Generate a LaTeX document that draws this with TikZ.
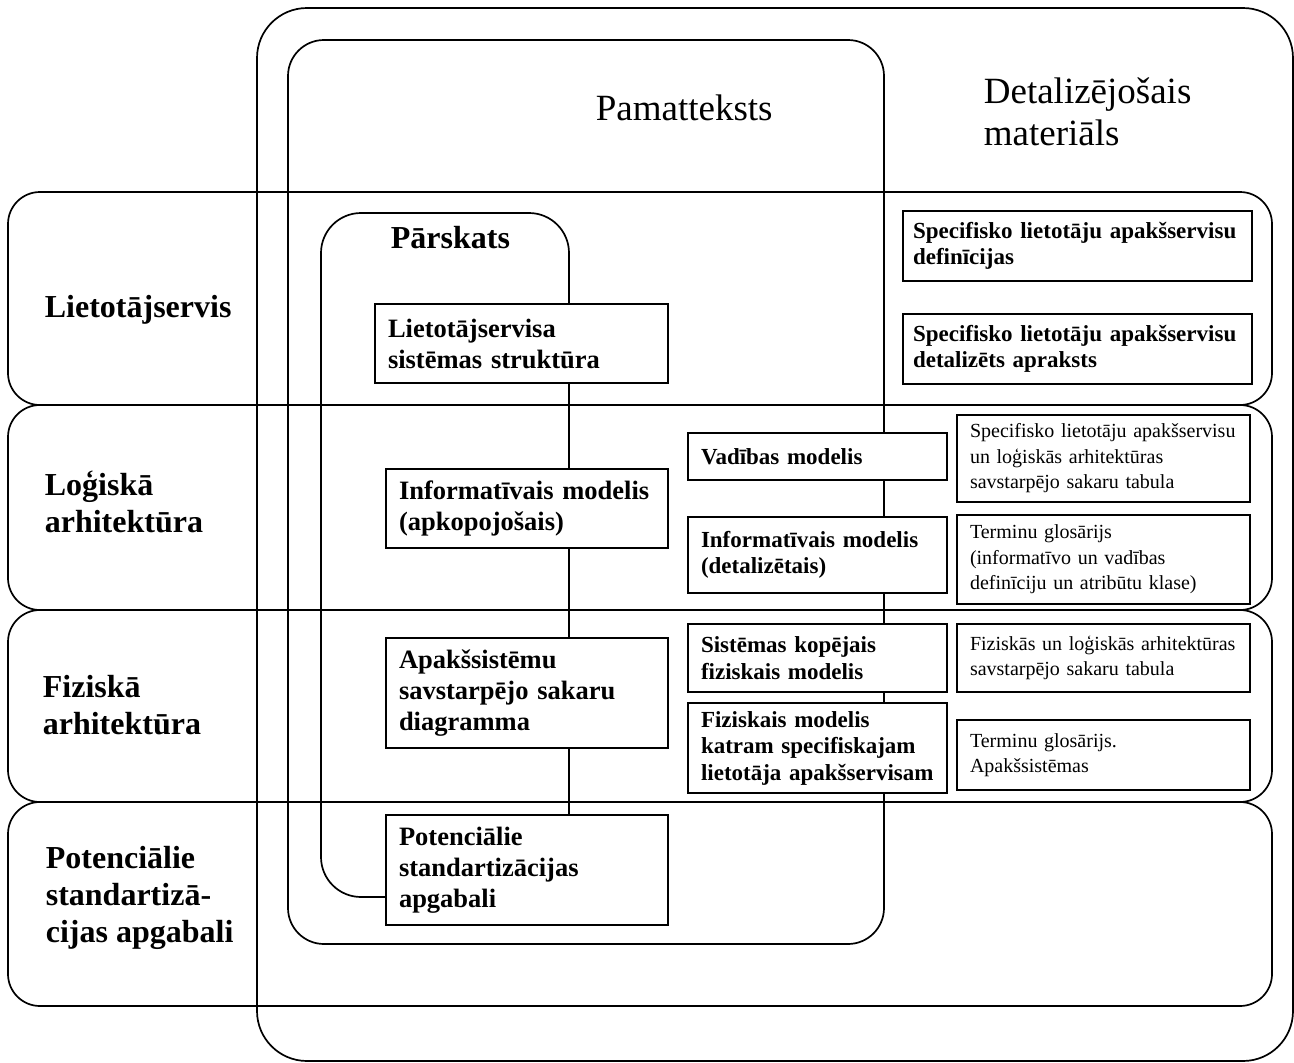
\documentclass[tikz,border=0pt]{standalone}
\usepackage{fontspec}
\setmainfont{Liberation Serif}
% left-aligned stack of lines whose baseline is that of the first line
\newcommand\stackl[1]{\begin{tabular}[t]{@{}l@{}}#1\end{tabular}}
\begin{document}
\begin{tikzpicture}[x=1pt, y=-1pt, line width=1.7pt,
  frame/.style={draw, rectangle, inner sep=0pt},
  band/.style={frame, rounded corners=32pt},
  bbox/.style={draw, fill=white, rectangle, inner xsep=13pt, inner ysep=0pt, align=left},
  bigtxt/.style={font=\fontsize{37}{42}\selectfont},
  bandtxt/.style={font=\fontsize{32}{37}\selectfont\bfseries},
  lfont/.style={font=\fontsize{26.5}{31}\selectfont\bfseries},
  mfont/.style={font=\fontsize{23}{26.5}\selectfont\bfseries},
  rfont/.style={font=\fontsize{20}{25.5}\selectfont},
  lbox/.style={bbox, lfont, minimum width=282pt, text width=256pt},
  mbox/.style={bbox, mfont, minimum width=259pt, text width=233pt},
  sbox/.style={bbox, mfont, inner xsep=10pt, minimum width=349pt, text width=329pt},
  rbox/.style={bbox, rfont, minimum width=293pt, text width=267pt}]
\useasboundingbox (0,0) rectangle (1294,1063);

% containers
\node[frame, rounded corners=50pt, minimum width=1036pt, minimum height=1053pt] (detal) at (775,534.5) {};
\node[frame, rounded corners=36pt, minimum width=596pt, minimum height=904pt] (pamat) at (586,492) {};

% horizontal bands
\node[band, minimum width=1264pt, minimum height=213pt] (bLiet) at (640,298.5) {};
\node[band, minimum width=1264pt, minimum height=205pt] (bLog) at (640,507.5) {};
\node[band, minimum width=1264pt, minimum height=192pt] (bFiz) at (640,706) {};
\node[band, minimum width=1264pt, minimum height=204pt] (bPot) at (640,904) {};

% headings
\node[bigtxt, anchor=base west, inner sep=0pt] (tPamat) at (595,120) {Pamatteksts};
\node[bigtxt, anchor=base west, inner sep=0pt] (tDetal) at (983,103) {\stackl{Detalizējošais\\materiāls}};
\node[bandtxt, anchor=base west, inner sep=0pt] (tLiet) at (44,317) {Lietotājservis};
\node[bandtxt, anchor=base west, inner sep=0pt] (tLog) at (44,495) {\stackl{Loģiskā\\arhitektūra}};
\node[bandtxt, anchor=base west, inner sep=0pt] (tFiz) at (42,697) {\stackl{Fiziskā\\arhitektūra}};
\node[bandtxt, anchor=base west, inner sep=0pt] (tPot) at (45,868) {\stackl{Potenciālie\\standartizā-\\cijas apgabali}};
\node[bandtxt, anchor=base west, inner sep=0pt] (tPars) at (390,248) {Pārskats};

% overview column
\node[lbox, minimum width=293pt, text width=267pt, minimum height=79pt] (struct) at (521.5,343.5) {Lietotājservisa\\sistēmas struktūra};
\node[lbox, minimum height=79pt] (infoA) at (527,508.5) {Informatīvais modelis\\(apkopojošais)};
\node[lbox, minimum height=110pt] (apaks) at (527,693) {Apakšsistēmu\\savstarpējo sakaru\\diagramma};
\node[lbox, minimum height=110pt] (pot) at (527,870) {Potenciālie\\standartizācijas\\apgabali};

% overview outline and the links between its boxes
\coordinate (xl) at (569,0);
\coordinate (prTL) at (321,213);
\coordinate (prBot) at (0,897);
\draw[rounded corners=40pt] (struct.north -| xl) |- (prTL) |- (pot.west |- prBot);
\draw (struct.south -| xl) -- (infoA.north -| xl);
\draw (infoA.south -| xl) -- (apaks.north -| xl);
\draw (apaks.south -| xl) -- (pot.north -| xl);

% main text column
\node[mbox, minimum height=47pt] (vad) at (817.5,456.5) {Vadības modelis};
\node[mbox, minimum height=76pt] (infoD) at (817.5,555) {Informatīvais modelis\\(detalizētais)};
\node[mbox, minimum height=68pt] (sist) at (817.5,658) {Sistēmas kopējais\\fiziskais modelis};
\node[mbox, minimum height=90pt] (fizm) at (817.5,748) {Fiziskais modelis\\katram specifiskajam\\lietotāja apakšservisam};

% detailed material column
\node[sbox, minimum height=70pt] (specDef) at (1077.5,246) {Specifisko lietotāju apakšservisu\\definīcijas};
\node[sbox, minimum height=70pt] (specDet) at (1077.5,349) {Specifisko lietotāju apakšservisu\\detalizēts apraksts};
\node[rbox, minimum height=87pt] (tab1) at (1103.5,458.5) {Specifisko lietotāju apakšservisu\\un loģiskās arhitektūras\\savstarpējo sakaru tabula};
\node[rbox, minimum height=89pt] (gloss1) at (1103.5,559.5) {Terminu glosārijs\\(informatīvo un vadības\\definīciju un atribūtu klase)};
\node[rbox, minimum height=68pt] (tab2) at (1103.5,658) {Fiziskās un loģiskās arhitektūras\\savstarpējo sakaru tabula};
\node[rbox, minimum height=70pt] (gloss2) at (1103.5,755) {Terminu glosārijs.\\Apakšsistēmas};
\end{tikzpicture}
\end{document}
